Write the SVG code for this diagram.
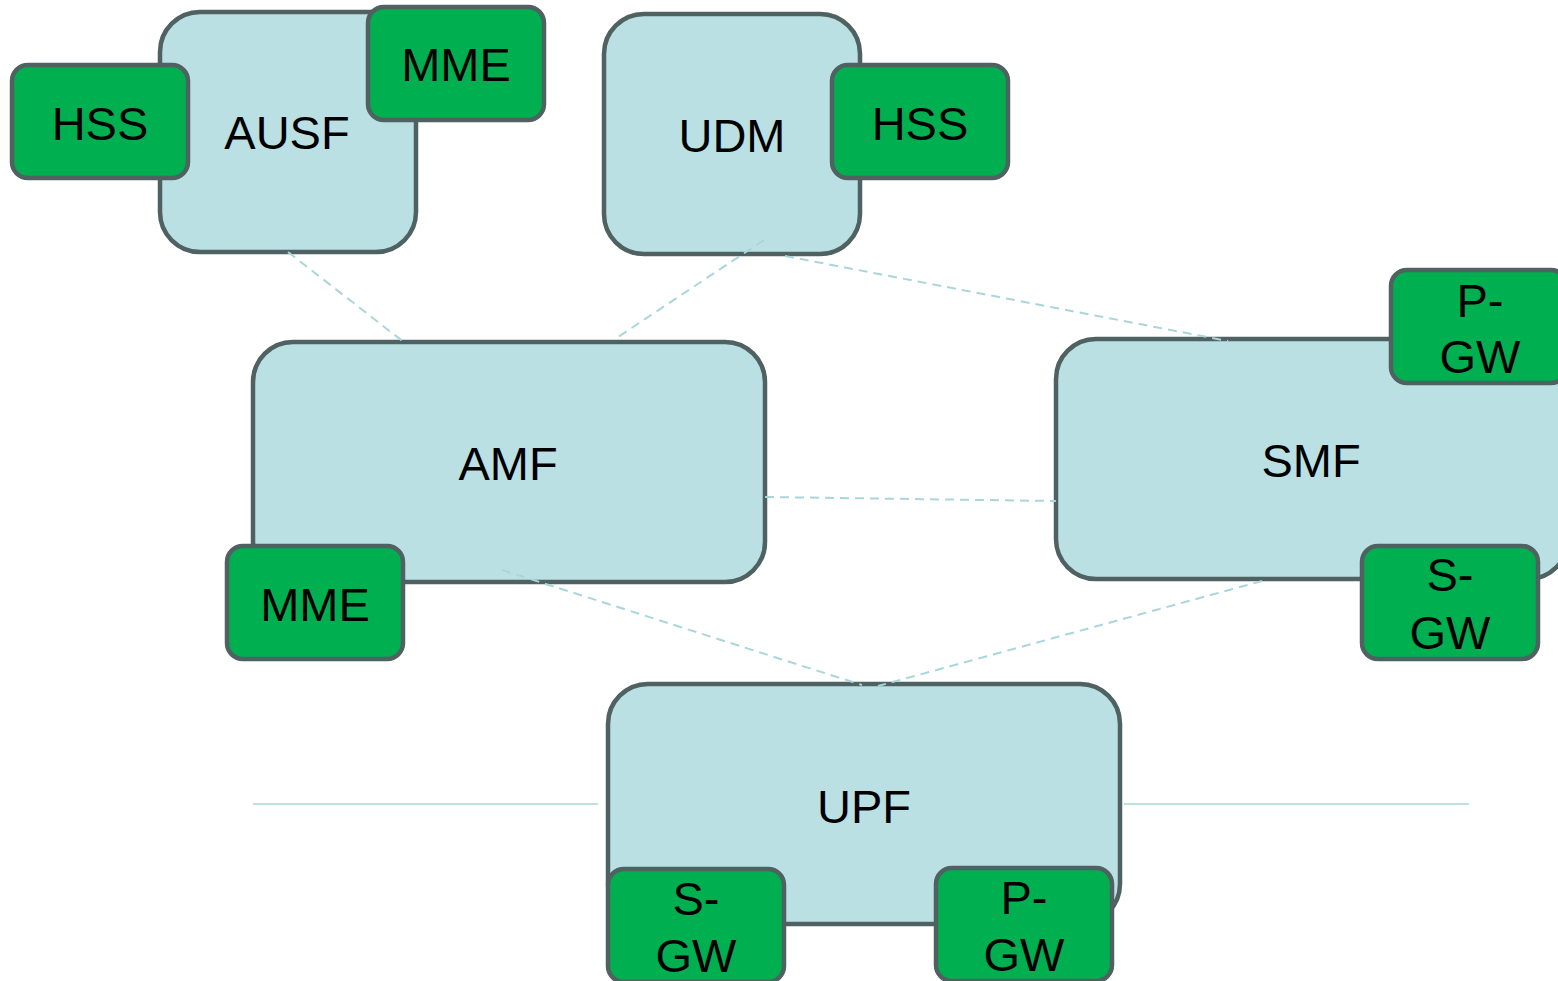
<svg xmlns="http://www.w3.org/2000/svg" width="1558" height="981" viewBox="0 0 1558 981">
<style>
.nf{fill:#bae0e3;stroke:#4f6161;stroke-width:4.5}
.gw{fill:#00b050;stroke:#4f6161;stroke-width:4.5}
text{font-family:"Liberation Sans",Arial,sans-serif;font-size:47px;fill:#000;text-anchor:middle}
.dash{stroke:#a9d6db;stroke-width:2;stroke-dasharray:9 6;fill:none}
.hl{stroke:#bfe0e3;stroke-width:2;fill:none}
</style>
<rect width="1558" height="981" fill="#ffffff"/>
<g id="ausf">
<rect class="nf" x="160" y="12" width="256" height="240" rx="40"/>
<text x="287" y="149">AUSF</text>
</g>
<g id="ausf-hss">
<rect class="gw" x="12" y="65" width="176" height="113" rx="16"/>
<text x="100" y="140">HSS</text>
</g>
<g id="ausf-mme">
<rect class="gw" x="368" y="7" width="176" height="113" rx="16"/>
<text x="456" y="81">MME</text>
</g>
<g id="udm">
<rect class="nf" x="604" y="14" width="256" height="240" rx="40"/>
<text x="732" y="152">UDM</text>
</g>
<g id="udm-hss">
<rect class="gw" x="832" y="65" width="176" height="113" rx="16"/>
<text x="920" y="140">HSS</text>
</g>
<g id="amf">
<rect class="nf" x="253" y="342" width="512" height="240" rx="40"/>
<text x="508" y="480">AMF</text>
</g>
<g id="amf-mme">
<rect class="gw" x="227" y="546" width="176" height="113" rx="16"/>
<text x="315" y="621">MME</text>
</g>
<g id="smf">
<rect class="nf" x="1056" y="339" width="512" height="240" rx="40"/>
<text x="1311" y="477">SMF</text>
</g>
<g id="smf-pgw">
<rect class="gw" x="1391" y="270" width="176" height="113" rx="16"/>
<text x="1480" y="317">P-</text>
<text x="1480" y="373">GW</text>
</g>
<g id="smf-sgw">
<rect class="gw" x="1362" y="546" width="176" height="113" rx="16"/>
<text x="1450" y="591">S-</text>
<text x="1450" y="649">GW</text>
</g>
<g id="upf">
<rect class="nf" x="608" y="684" width="512" height="240" rx="40"/>
<text x="864" y="823">UPF</text>
</g>
<g id="upf-sgw">
<rect class="gw" x="608" y="869" width="176" height="113" rx="16"/>
<text x="696" y="915">S-</text>
<text x="696" y="972">GW</text>
</g>
<g id="upf-pgw">
<rect class="gw" x="936" y="868" width="176" height="113" rx="16"/>
<text x="1024" y="914">P-</text>
<text x="1024" y="971">GW</text>
</g>
<g id="connectors">
<line class="dash" x1="288" y1="252" x2="405" y2="343"/>
<line class="dash" x1="764" y1="240" x2="615" y2="339"/>
<line class="dash" x1="785" y1="256" x2="1228" y2="341"/>
<line class="dash" x1="765" y1="497" x2="1056" y2="501"/>
<line class="dash" x1="502" y1="570" x2="862" y2="685"/>
<line class="dash" x1="1262" y1="581" x2="878" y2="686"/>
<line class="hl" x1="253" y1="804" x2="598" y2="804"/>
<line class="hl" x1="1124" y1="804" x2="1469" y2="804"/>
</g>
</svg>
